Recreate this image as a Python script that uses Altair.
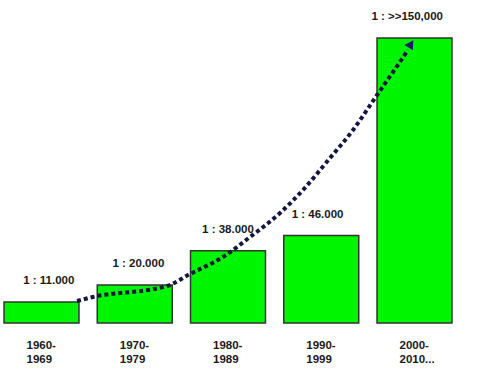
import altair as alt
import pandas as pd

periods = ["1960- 1969", "1970- 1979", "1980- 1989", "1990- 1999", "2000- 2010..."]
ratios = [11000, 20000, 38000, 46000, 150000]
ratio_labels = ["1 : 11.000", "1 : 20.000", "1 : 38.000", "1 : 46.000", "1 : >>150,000"]

# dotted trend curve (x in bar-index units, y in ratio units)
curve_pos = [0.381, 0.552, 1.346, 1.592, 1.946, 2.236, 2.558, 2.804, 3.094, 3.341, 3.598, 3.769, 3.930]
curve_val = [11580, 13680, 19470, 25790, 34740, 45260, 57890, 70000, 86840, 101580, 120000, 132100, 143680]
arrow_pos = [3.962]
arrow_val = [146840]

bars_df = pd.DataFrame({"period": periods, "ratio": ratios, "label": ratio_labels})
curve_df = pd.DataFrame({"pos": curve_pos, "val": curve_val})
arrow_df = pd.DataFrame({"pos": arrow_pos, "val": arrow_val})

FONT = "Liberation Sans"
xband = alt.Scale(domain=periods, paddingInner=0.196, paddingOuter=0)
yscale = alt.Scale(domain=[0, 150000], nice=False, zero=True)
xq = alt.Scale(domain=[-0.402, 4.402], nice=False, zero=False)

bars = alt.Chart(bars_df).mark_bar(
    color="#00f500", stroke="#333333", strokeWidth=1.5
).encode(
    x=alt.X("period:N", scale=xband, sort=periods,
            axis=alt.Axis(title=None, domain=False, ticks=False, grid=False,
                          labelAngle=0, labelAlign="left", labelOffset=-15,
                          labelPadding=16, labelFont=FONT, labelFontSize=11.5,
                          labelFontWeight="bold", labelColor="#1a1a1a",
                          labelLineHeight=14, labelBaseline="top",
                          labelExpr="split(datum.label, ' ')")),
    y=alt.Y("ratio:Q", scale=yscale, axis=None),
)

text = alt.Chart(bars_df).mark_text(
    baseline="middle", dy=-21, font=FONT, fontWeight="bold", fontSize=11.5, color="#1a1a1a"
).encode(
    x=alt.X("period:N", scale=xband, sort=periods, axis=None),
    y=alt.Y("ratio:Q", scale=yscale, axis=None),
    text="label:N",
)

curve = alt.Chart(curve_df).mark_line(
    color="#14183f", strokeWidth=4, strokeDash=[4, 3], interpolate="monotone", strokeCap="butt"
).encode(
    x=alt.X("pos:Q", scale=xq, axis=None),
    y=alt.Y("val:Q", scale=yscale, axis=None),
)

arrow = alt.Chart(arrow_df).mark_point(
    shape="triangle-up", filled=True, size=100, angle=33, color="#0f1f6a", opacity=1
).encode(
    x=alt.X("pos:Q", scale=xq, axis=None),
    y=alt.Y("val:Q", scale=yscale, axis=None),
)

chart = alt.layer(bars, text, curve, arrow).resolve_scale(x="independent").properties(
    width=448, height=285,
    padding={"left": 4, "top": 38, "right": 28, "bottom": 54},
    autosize=alt.AutoSizeParams(type="none"),
    background="white",
).configure_view(stroke=None)

chart.save("out.html", embed_options={"renderer": "svg", "actions": False})
